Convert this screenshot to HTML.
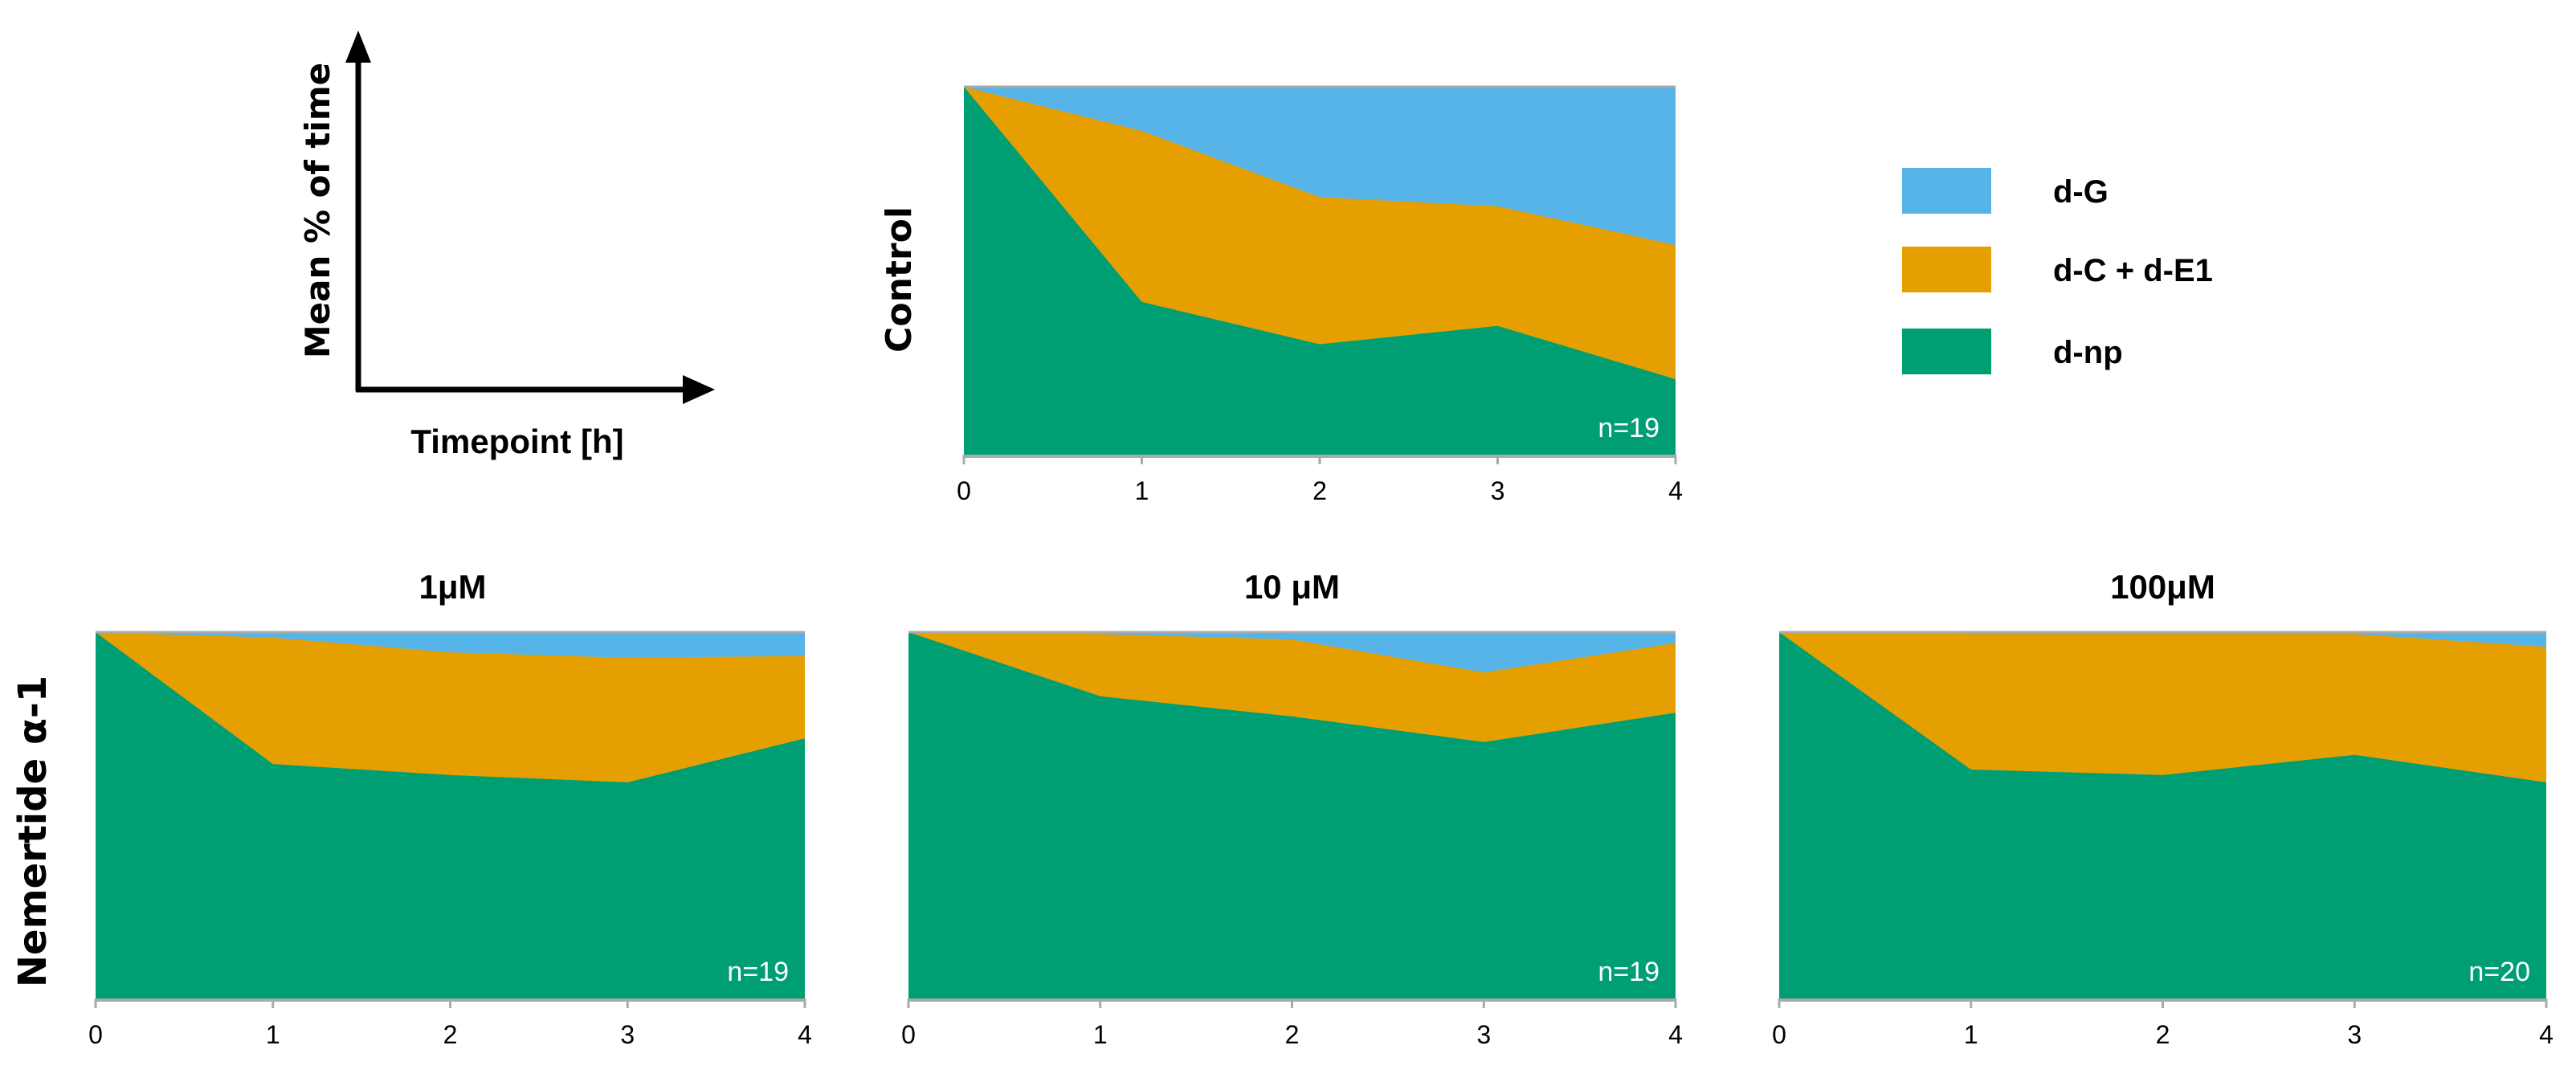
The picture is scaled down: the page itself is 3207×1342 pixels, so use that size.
<!DOCTYPE html>
<html><head><meta charset="utf-8"><style>
body{margin:0;background:#fff;}
svg text{font-family:"Liberation Sans",sans-serif;}
svg text.dv{font-family:"DejaVu Sans",sans-serif;}
</style></head><body>
<svg id="fig" width="3207" height="1337" xmlns="http://www.w3.org/2000/svg">
<g>
<line x1="446" y1="487" x2="446" y2="70" stroke="#000" stroke-width="7"/>
<polygon points="446,38 430,78 462,78" fill="#000"/>
<line x1="443" y1="485" x2="860" y2="485" stroke="#000" stroke-width="7"/>
<polygon points="890,485 850,467 850,503" fill="#000"/>
<text class="dv" x="410" y="262" transform="rotate(-90 410 262)" text-anchor="middle" font-size="42" font-weight="bold">Mean % of time</text>
<text x="644" y="564" text-anchor="middle" font-size="42" font-weight="bold">Timepoint [h]</text>
</g>
<text class="dv" x="1134" y="348" transform="rotate(-90 1134 348)" text-anchor="middle" font-size="44" font-weight="bold">Control</text>
<text class="dv" x="57" y="1035" transform="rotate(-90 57 1035)" text-anchor="middle" font-size="48" font-weight="bold">Nemertide α-1</text>
<g>
<rect x="2368" y="209" width="111" height="57" fill="#56B4E9"/>
<text x="2556" y="252" font-size="40" font-weight="bold">d-G</text>
<rect x="2368" y="307" width="111" height="57" fill="#E69F00"/>
<text x="2556" y="350" font-size="40" font-weight="bold">d-C + d-E1</text>
<rect x="2368" y="409" width="111" height="57" fill="#009E73"/>
<text x="2556" y="452" font-size="40" font-weight="bold">d-np</text>
</g>
</svg>
<script>
const timepoints = [0,1,2,3,4];
const controlNp = [100,41.5,30,35,20.5];
const controlCE = [0,46.5,40,32.5,36.5];
const um1Np = [100,64,61,59,71];
const um1CE = [0,34.5,33.5,34,22.5];
const um10Np = [100,82.5,77,70,78];
const um10CE = [0,17,21,19,19];
const um100Np = [100,62.5,61,66.5,59];
const um100CE = [0,37,38.5,33,37];
const nLabels = ["n=19","n=19","n=19","n=20"];
const panelTitles = ["","1μM","10 μM","100μM"];

const NS='http://www.w3.org/2000/svg';
const svg=document.getElementById('fig');
function mk(tag,attrs){const e=document.createElementNS(NS,tag);for(const k in attrs)e.setAttribute(k,attrs[k]);return e;}
const panels=[
 {x0:1200,x1:2086,y0:108,y1:566,np:controlNp,ce:controlCE,name:'control'},
 {x0:119,x1:1002,y0:787,y1:1243,np:um1Np,ce:um1CE,name:'1um'},
 {x0:1131,x1:2086,y0:787,y1:1243,np:um10Np,ce:um10CE,name:'10um'},
 {x0:2215,x1:3170,y0:787,y1:1243,np:um100Np,ce:um100CE,name:'100um'}
];
panels.forEach((p,i)=>{
 const g=mk('g',{});
 
 
 svg.appendChild(g);
 const xs=t=>p.x0+(t-timepoints[0])/(timepoints[timepoints.length-1]-timepoints[0])*(p.x1-p.x0);
 const ys=v=>p.y1-v/100*(p.y1-p.y0);
 const bg=mk('rect',{x:p.x0,y:p.y0,width:p.x1-p.x0,height:p.y1-p.y0,fill:'#56B4E9'});
 
 
 g.appendChild(bg);
 let top=timepoints.map((t,k)=>xs(t)+','+ys(p.np[k]+p.ce[k]));
 let pts=top.join(' ')+' '+xs(timepoints[timepoints.length-1])+','+p.y1+' '+xs(timepoints[0])+','+p.y1;
 const oa=mk('polygon',{points:pts,fill:'#E69F00'});
 
 
 g.appendChild(oa);
 let gt=timepoints.map((t,k)=>xs(t)+','+ys(p.np[k]));
 pts=gt.join(' ')+' '+xs(timepoints[timepoints.length-1])+','+p.y1+' '+xs(timepoints[0])+','+p.y1;
 const ga=mk('polygon',{points:pts,fill:'#009E73'});
 
 
 g.appendChild(ga);
 g.appendChild(mk('line',{x1:p.x0,x2:p.x1,y1:p.y0,y2:p.y0,stroke:'#aaa','stroke-width':3}));
 const ax=mk('line',{x1:p.x0,x2:p.x1,y1:p.y1+2,y2:p.y1+2,stroke:'#aaa','stroke-width':4});
 
 
 g.appendChild(ax);
 timepoints.forEach(t=>{
  g.appendChild(mk('line',{x1:xs(t),x2:xs(t),y1:p.y1,y2:p.y1+12,stroke:'#aaa','stroke-width':3}));
  const tl=mk('text',{x:xs(t),y:p.y1+56,'text-anchor':'middle','font-size':32});
  tl.textContent=t;
  
  
  g.appendChild(tl);
 });
 const n=mk('text',{x:p.x1-20,y:p.y1-22,'text-anchor':'end','font-size':34,fill:'#fff'});
 n.textContent=nLabels[i];
 
 
 g.appendChild(n);
 if(panelTitles[i]){
  const tt=mk('text',{x:(p.x0+p.x1)/2-((i==1)?-3:0),y:p.y0-42,'text-anchor':'middle','font-size':42,'font-weight':'bold'});
  tt.textContent=panelTitles[i];
  
  
  g.appendChild(tt);
 }
});
</script>
</body></html>
